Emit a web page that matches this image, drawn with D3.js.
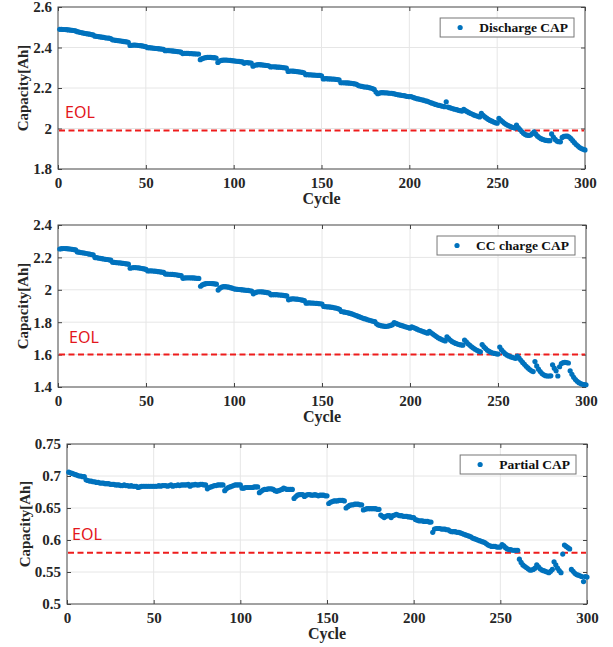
<!DOCTYPE html>
<html>
<head>
<meta charset="utf-8">
<script src="https://cdn.jsdelivr.net/npm/d3@7"></script>
<style>
  body { margin: 0; background: #fff; }
  svg { display: block; }
</style>
</head>
<body>
<div id="chart"></div>
<script>
const cycles = d3.range(1, 301);

// discharge capacity [Ah], cycles 1..300
const discharge = [
  2.490, 2.490, 2.489, 2.489, 2.488, 2.487, 2.486, 2.485, 2.484, 2.482,
  2.478, 2.476, 2.474, 2.472, 2.470, 2.469, 2.467, 2.466, 2.464, 2.462,
  2.456, 2.455, 2.454, 2.452, 2.451, 2.450, 2.448, 2.447, 2.446, 2.444,
  2.438, 2.437, 2.435, 2.434, 2.433, 2.432, 2.430, 2.429, 2.428, 2.426,
  2.410, 2.411, 2.412, 2.412, 2.411, 2.410, 2.409, 2.408, 2.406, 2.404,
  2.399, 2.399, 2.398, 2.397, 2.396, 2.395, 2.394, 2.393, 2.392, 2.391,
  2.384, 2.385, 2.385, 2.384, 2.383, 2.382, 2.381, 2.380, 2.379, 2.377,
  2.370, 2.371, 2.371, 2.371, 2.370, 2.370, 2.369, 2.369, 2.368, 2.368,
  2.340, 2.345, 2.348, 2.350, 2.351, 2.351, 2.351, 2.350, 2.350, 2.348,
  2.326, 2.333, 2.336, 2.338, 2.338, 2.338, 2.337, 2.336, 2.335, 2.334,
  2.333, 2.332, 2.331, 2.330, 2.329, 2.322, 2.326, 2.325, 2.324, 2.323,
  2.308, 2.312, 2.314, 2.315, 2.315, 2.314, 2.313, 2.312, 2.311, 2.310,
  2.304, 2.305, 2.305, 2.304, 2.303, 2.303, 2.302, 2.301, 2.300, 2.298,
  2.282, 2.284, 2.284, 2.283, 2.282, 2.281, 2.280, 2.279, 2.277, 2.275,
  2.266, 2.266, 2.265, 2.265, 2.264, 2.264, 2.263, 2.262, 2.262, 2.260,
  2.245, 2.246, 2.246, 2.245, 2.245, 2.244, 2.244, 2.243, 2.242, 2.240,
  2.226, 2.226, 2.226, 2.225, 2.225, 2.224, 2.223, 2.222, 2.220, 2.218,
  2.212, 2.210, 2.208, 2.206, 2.205, 2.204, 2.202, 2.200, 2.197, 2.193,
  2.180, 2.172, 2.175, 2.177, 2.177, 2.176, 2.176, 2.175, 2.174, 2.174,
  2.172, 2.170, 2.168, 2.166, 2.165, 2.163, 2.162, 2.160, 2.158, 2.157,
  2.158, 2.154, 2.151, 2.148, 2.146, 2.144, 2.142, 2.140, 2.137, 2.135,
  2.132, 2.128, 2.125, 2.122, 2.119, 2.116, 2.114, 2.112, 2.110, 2.108,
  2.132, 2.106, 2.103, 2.100, 2.097, 2.095, 2.093, 2.090, 2.088, 2.086,
  2.094, 2.088, 2.083, 2.078, 2.074, 2.070, 2.066, 2.063, 2.060, 2.057,
  2.075, 2.065, 2.057, 2.051, 2.045, 2.040, 2.036, 2.032, 2.029, 2.026,
  2.050, 2.041, 2.034, 2.027, 2.021, 2.016, 2.012, 2.008, 2.005, 2.002,
  2.017, 2.005, 1.995, 1.985, 1.976, 1.970, 1.967, 1.966, 1.968, 1.975,
  1.983, 1.972, 1.962, 1.955, 1.950, 1.946, 1.943, 1.941, 1.940, 1.940,
  1.973, 1.958, 1.946, 1.938, 1.935, 1.934, 1.956, 1.961, 1.963, 1.962,
  1.958, 1.950, 1.940, 1.930, 1.921, 1.913, 1.906, 1.901, 1.897, 1.894
];

// CC charge capacity [Ah], cycles 1..300
const ccCharge = [
  2.252, 2.254, 2.255, 2.255, 2.254, 2.253, 2.252, 2.250, 2.248, 2.246,
  2.234, 2.232, 2.230, 2.228, 2.226, 2.224, 2.222, 2.220, 2.218, 2.215,
  2.199, 2.198, 2.196, 2.194, 2.192, 2.190, 2.188, 2.187, 2.185, 2.183,
  2.170, 2.169, 2.168, 2.167, 2.166, 2.165, 2.163, 2.162, 2.160, 2.158,
  2.133, 2.136, 2.137, 2.137, 2.136, 2.135, 2.133, 2.131, 2.129, 2.126,
  2.116, 2.117, 2.117, 2.116, 2.115, 2.114, 2.112, 2.111, 2.109, 2.107,
  2.097, 2.097, 2.096, 2.096, 2.095, 2.094, 2.093, 2.091, 2.089, 2.087,
  2.071, 2.073, 2.074, 2.074, 2.074, 2.073, 2.073, 2.072, 2.071, 2.070,
  2.022, 2.030, 2.035, 2.038, 2.039, 2.039, 2.039, 2.038, 2.037, 2.035,
  1.998, 2.010, 2.016, 2.019, 2.019, 2.018, 2.016, 2.013, 2.010, 2.006,
  2.004, 2.003, 2.002, 2.001, 1.999, 1.998, 1.997, 1.996, 1.994, 1.992,
  1.975, 1.982, 1.986, 1.988, 1.988, 1.987, 1.986, 1.984, 1.982, 1.980,
  1.969, 1.970, 1.970, 1.970, 1.969, 1.968, 1.967, 1.966, 1.964, 1.962,
  1.938, 1.942, 1.944, 1.944, 1.943, 1.942, 1.940, 1.938, 1.936, 1.933,
  1.917, 1.919, 1.919, 1.918, 1.918, 1.917, 1.916, 1.915, 1.914, 1.912,
  1.897, 1.896, 1.895, 1.894, 1.893, 1.891, 1.889, 1.887, 1.884, 1.880,
  1.866, 1.864, 1.862, 1.860, 1.857, 1.854, 1.851, 1.847, 1.843, 1.839,
  1.834, 1.830, 1.826, 1.822, 1.819, 1.815, 1.812, 1.809, 1.806, 1.803,
  1.790, 1.783, 1.780, 1.777, 1.776, 1.774, 1.775, 1.777, 1.780, 1.785,
  1.798, 1.793, 1.788, 1.784, 1.780, 1.777, 1.773, 1.770, 1.767, 1.763,
  1.772, 1.767, 1.762, 1.757, 1.752, 1.748, 1.744, 1.740, 1.736, 1.732,
  1.743, 1.735, 1.727, 1.719, 1.711, 1.704, 1.698, 1.693, 1.688, 1.684,
  1.710, 1.698, 1.688, 1.680, 1.674, 1.669, 1.665, 1.662, 1.660, 1.658,
  1.690, 1.678, 1.667, 1.657, 1.648, 1.640, 1.633, 1.627, 1.621, 1.617,
  1.662, 1.648, 1.637, 1.627, 1.620, 1.614, 1.610, 1.607, 1.605, 1.603,
  1.647, 1.630, 1.617, 1.606, 1.598, 1.592, 1.587, 1.583, 1.580, 1.577,
  1.591, 1.578, 1.565, 1.552, 1.540, 1.528, 1.518, 1.508, 1.500, 1.495,
  1.557, 1.530, 1.510, 1.495, 1.483, 1.475, 1.470, 1.468, 1.468, 1.469,
  1.537, 1.516, 1.500, 1.468, 1.525, 1.545, 1.550, 1.552, 1.551, 1.548,
  1.500, 1.478, 1.460, 1.446, 1.435, 1.427, 1.421, 1.417, 1.415, 1.414
];

// partial capacity [Ah], cycles 1..300
const partial = [
  0.706, 0.705, 0.704, 0.703, 0.702, 0.701, 0.700, 0.700, 0.699, 0.699,
  0.694, 0.693, 0.692, 0.692, 0.691, 0.691, 0.690, 0.690, 0.689, 0.689,
  0.689, 0.688, 0.688, 0.688, 0.687, 0.687, 0.687, 0.686, 0.686, 0.686,
  0.685, 0.685, 0.686, 0.685, 0.685, 0.684, 0.685, 0.684, 0.684, 0.684,
  0.682, 0.683, 0.684, 0.684, 0.684, 0.684, 0.684, 0.684, 0.684, 0.684,
  0.684, 0.684, 0.685, 0.684, 0.685, 0.685, 0.685, 0.684, 0.685, 0.686,
  0.684, 0.685, 0.685, 0.686, 0.685, 0.686, 0.686, 0.686, 0.686, 0.687,
  0.684, 0.686, 0.686, 0.687, 0.686, 0.686, 0.687, 0.687, 0.686, 0.686,
  0.680, 0.682, 0.683, 0.684, 0.685, 0.685, 0.686, 0.686, 0.686, 0.686,
  0.677, 0.680, 0.682, 0.683, 0.684, 0.685, 0.686, 0.686, 0.686, 0.686,
  0.681, 0.681, 0.682, 0.682, 0.682, 0.682, 0.682, 0.683, 0.683, 0.683,
  0.674, 0.676, 0.678, 0.679, 0.679, 0.680, 0.680, 0.680, 0.679, 0.677,
  0.676, 0.677, 0.678, 0.679, 0.681, 0.680, 0.679, 0.679, 0.679, 0.679,
  0.665, 0.668, 0.670, 0.671, 0.671, 0.671, 0.668, 0.670, 0.671, 0.671,
  0.670, 0.670, 0.671, 0.670, 0.669, 0.670, 0.670, 0.670, 0.669, 0.669,
  0.657, 0.659, 0.660, 0.661, 0.661, 0.661, 0.662, 0.662, 0.662, 0.661,
  0.650, 0.652, 0.654, 0.655, 0.655, 0.656, 0.656, 0.656, 0.655, 0.655,
  0.647, 0.648, 0.649, 0.649, 0.649, 0.649, 0.649, 0.649, 0.648, 0.648,
  0.639, 0.637, 0.635, 0.637, 0.638, 0.638, 0.635, 0.638, 0.639, 0.640,
  0.639, 0.638, 0.638, 0.637, 0.637, 0.637, 0.636, 0.636, 0.635, 0.635,
  0.632, 0.631, 0.630, 0.630, 0.630, 0.629, 0.629, 0.629, 0.628, 0.628,
  0.612, 0.617, 0.618, 0.618, 0.618, 0.617, 0.617, 0.617, 0.616, 0.616,
  0.614, 0.613, 0.613, 0.613, 0.612, 0.612, 0.611, 0.610, 0.609, 0.608,
  0.607, 0.606, 0.605, 0.603, 0.602, 0.601, 0.600, 0.599, 0.598, 0.597,
  0.596, 0.594, 0.592, 0.591, 0.590, 0.590, 0.590, 0.589, 0.589, 0.589,
  0.593, 0.591, 0.588, 0.586, 0.585, 0.585, 0.584, 0.584, 0.584, 0.584,
  0.570, 0.565, 0.561, 0.559, 0.557, 0.555, 0.553, 0.553, 0.554, 0.556,
  0.561, 0.558, 0.555, 0.553, 0.552, 0.551, 0.550, 0.549, 0.551, 0.554,
  0.566, 0.561, 0.556, 0.552, 0.549, 0.578, 0.592, 0.590, 0.588, 0.586,
  0.554, 0.551, 0.548, 0.546, 0.545, 0.544, 0.543, 0.535, 0.543, 0.542
];

const xTicks = [0, 50, 100, 150, 200, 250, 300];
const dischargeTicks = [1.8, 2, 2.2, 2.4, 2.6];
const ccChargeTicks = [1.4, 1.6, 1.8, 2, 2.2, 2.4];
const partialTicks = [0.5, 0.55, 0.6, 0.65, 0.7, 0.75];
const eolLevels = [1.99, 1.6, 0.58];
const legendNames = ["Discharge CAP", "CC charge CAP", "Partial CAP"];

const width = 613, height = 647;
const blue = "#0072BD";
const serif = "'Liberation Serif', 'Times New Roman', serif";

const panels = [
  {values: discharge, ticks: dischargeTicks, eol: eolLevels[0], name: legendNames[0],
   left: 58, right: 585, top: 7, bottom: 169, eolX: 65, eolY: 118, labelX: 28},
  {values: ccCharge, ticks: ccChargeTicks, eol: eolLevels[1], name: legendNames[1],
   left: 58, right: 586, top: 225, bottom: 387, eolX: 69, eolY: 343, labelX: 28},
  {values: partial, ticks: partialTicks, eol: eolLevels[2], name: legendNames[2],
   left: 67, right: 587, top: 444, bottom: 604, eolX: 72, eolY: 540, labelX: 30}
];

const svg = d3.select("#chart").append("svg")
  .attr("width", width).attr("height", height);

panels.forEach(drawPanel);

function styleTickText(sel) {
  sel.selectAll(".tick text")
    .attr("font-family", serif)
    .attr("font-weight", "bold")
    .attr("font-size", 15)
    .attr("fill", "#262626");
}

function drawPanel(p) {
  const x = d3.scaleLinear().domain([0, 300]).range([p.left, p.right]);
  const y = d3.scaleLinear().domain(d3.extent(p.ticks)).range([p.bottom, p.top]);
  const g = svg.append("g");

  // grid
  g.append("g").selectAll("line").data(xTicks.slice(1, -1)).join("line")
    .attr("x1", d => x(d)).attr("x2", d => x(d))
    .attr("y1", p.top).attr("y2", p.bottom)
    .attr("stroke", "#e6e6e6");
  g.append("g").selectAll("line").data(p.ticks.slice(1, -1)).join("line")
    .attr("x1", p.left).attr("x2", p.right)
    .attr("y1", d => y(d)).attr("y2", d => y(d))
    .attr("stroke", "#e6e6e6");

  // axes, ticks pointing inward
  const bottomAxis = g.append("g").attr("transform", `translate(0,${p.bottom})`)
    .call(d3.axisBottom(x).tickValues(xTicks).tickSizeInner(-4).tickSizeOuter(0).tickPadding(8).tickFormat(d => d));
  const leftAxis = g.append("g").attr("transform", `translate(${p.left},0)`)
    .call(d3.axisLeft(y).tickValues(p.ticks).tickSizeInner(-4).tickSizeOuter(0).tickPadding(6).tickFormat(d => d));
  const topAxis = g.append("g").attr("transform", `translate(0,${p.top})`)
    .call(d3.axisTop(x).tickValues(xTicks).tickSizeInner(-4).tickSizeOuter(0).tickFormat(""));
  const rightAxis = g.append("g").attr("transform", `translate(${p.right},0)`)
    .call(d3.axisRight(y).tickValues(p.ticks).tickSizeInner(-4).tickSizeOuter(0).tickFormat(""));
  [bottomAxis, leftAxis, topAxis, rightAxis].forEach(a => {
    a.select(".domain").remove();
    a.selectAll(".tick line").attr("stroke", "#444");
  });
  styleTickText(bottomAxis);
  styleTickText(leftAxis);

  g.append("rect")
    .attr("x", p.left).attr("y", p.top)
    .attr("width", p.right - p.left).attr("height", p.bottom - p.top)
    .attr("fill", "none").attr("stroke", "#444").attr("stroke-width", 1);

  // EOL threshold
  g.append("line")
    .attr("x1", p.left + 1).attr("x2", p.right - 1)
    .attr("y1", y(p.eol)).attr("y2", y(p.eol))
    .attr("stroke", "#ee1c1c").attr("stroke-width", 2)
    .attr("stroke-dasharray", "6,3.5");
  g.append("text")
    .attr("x", p.eolX).attr("y", p.eolY)
    .attr("font-family", "'Noto Sans', 'Open Sans', sans-serif")
    .attr("font-size", 16).attr("fill", "#e3161c")
    .text("EOL");

  // capacity points
  g.append("g").selectAll("circle").data(cycles).join("circle")
    .attr("cx", d => x(d))
    .attr("cy", (d, i) => y(p.values[i]))
    .attr("r", 2.6)
    .attr("fill", blue);

  // axis titles
  g.append("text")
    .attr("x", (p.left + p.right) / 2).attr("y", p.bottom + 35)
    .attr("text-anchor", "middle")
    .attr("font-family", serif).attr("font-weight", "bold").attr("font-size", 16)
    .attr("fill", "#262626")
    .text("Cycle");
  g.append("text")
    .attr("transform", `translate(${p.labelX},${(p.top + p.bottom) / 2}) rotate(-90)`)
    .attr("text-anchor", "middle")
    .attr("font-family", serif).attr("font-weight", "bold").attr("font-size", 15)
    .attr("fill", "#262626")
    .text("Capacity[Ah]");

  // legend
  const legend = g.append("g");
  const box = legend.append("rect")
    .attr("fill", "#fff").attr("stroke", "#777").attr("stroke-width", 1);
  const label = legend.append("text")
    .attr("font-family", serif).attr("font-weight", "bold").attr("font-size", 13.5)
    .attr("fill", "#111")
    .text(p.name);
  const tw = label.node().getComputedTextLength();
  const bw = tw + 45, bh = 19;
  const bx = p.right - 11 - bw, by = p.top + 11;
  box.attr("x", bx).attr("y", by).attr("width", bw).attr("height", bh);
  label.attr("x", bx + 39).attr("y", by + bh / 2 + 4.5);
  legend.append("circle")
    .attr("cx", bx + 20).attr("cy", by + bh / 2)
    .attr("r", 2.6).attr("fill", blue);
}
</script>
</body>
</html>
